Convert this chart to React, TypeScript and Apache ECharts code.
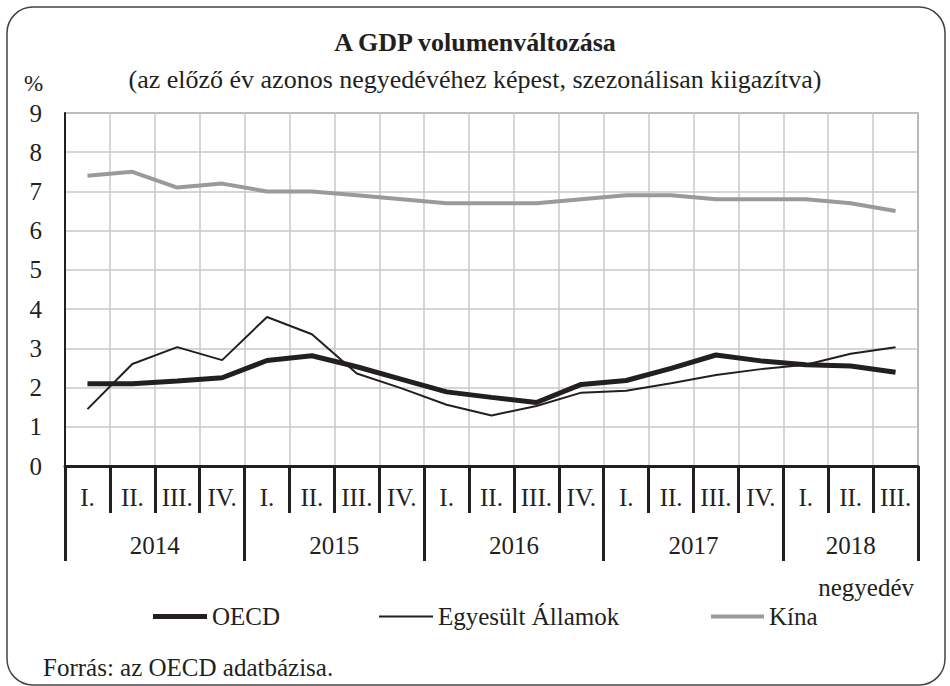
import React, { useEffect, useRef } from "react";
import * as echarts from "echarts";

const quarters = ["I.", "II.", "III.", "IV.", "I.", "II.", "III.", "IV.", "I.", "II.", "III.", "IV.", "I.", "II.", "III.", "IV.", "I.", "II.", "III."];
const years = ["2014", "2015", "2016", "2017", "2018"];
const yearBoundaries = [0, 4, 8, 12, 16, 19];
const yearCenters = [2, 6, 10, 14, 17.5];

const oecd = [2.1, 2.1, 2.17, 2.25, 2.69, 2.81, 2.53, 2.21, 1.89, 1.75, 1.62, 2.08, 2.18, 2.49, 2.83, 2.68, 2.58, 2.55, 2.39];
const usa = [1.45, 2.6, 3.03, 2.7, 3.8, 3.36, 2.36, 1.98, 1.56, 1.29, 1.53, 1.87, 1.92, 2.11, 2.32, 2.47, 2.58, 2.86, 3.03];
const china = [7.4, 7.5, 7.1, 7.2, 7.0, 7.0, 6.9, 6.8, 6.7, 6.7, 6.7, 6.8, 6.9, 6.9, 6.8, 6.8, 6.8, 6.7, 6.5];

const FONT = "'Liberation Serif', 'DejaVu Serif', serif";
const INK = "#231f20";
const GRAY = "#9a9a9c";
const FS = 25;

export default function App() {
  const ref = useRef<HTMLDivElement>(null);
  useEffect(() => {
    if (!ref.current) return;
    const chart = echarts.init(ref.current, null, { renderer: "svg" });
    const legendText = { fontFamily: FONT, fontSize: FS, color: INK };
    chart.setOption({
      animation: false,
      backgroundColor: "#ffffff",
      textStyle: { fontFamily: FONT, color: INK },
      title: [
        { text: "A GDP volumenváltozása", left: "center", top: 24, textStyle: { fontFamily: FONT, fontSize: 26, fontWeight: "bold", color: INK } },
        { text: "(az előző év azonos negyedévéhez képest, szezonálisan kiigazítva)", left: "center", top: 61, textStyle: { fontFamily: FONT, fontSize: 26, fontWeight: "normal", color: INK } },
        { text: "%", left: 24, top: 72, padding: 0, textStyle: { fontFamily: FONT, fontSize: 23, lineHeight: 23, fontWeight: "normal", color: INK } },
        { text: "negyedév", right: 31, top: 570, textStyle: { fontFamily: FONT, fontSize: FS, fontWeight: "normal", color: INK } },
        { text: "Forrás: az OECD adatbázisa.", left: 38, top: 650, textStyle: { fontFamily: FONT, fontSize: FS, fontWeight: "normal", color: INK } },
      ],
      graphic: [
        { type: "rect", shape: { x: 7, y: 7, width: 938, height: 678, r: 26 }, style: { fill: "none", stroke: "#444", lineWidth: 1.5 }, silent: true },
      ],
      legend: [
        { data: [{ name: "OECD", icon: "rect" }], left: 148, top: 599, itemWidth: 54, itemHeight: 5, itemStyle: { color: INK }, textStyle: legendText },
        { data: [{ name: "Egyesült Államok", icon: "rect" }], left: 374, top: 599, itemWidth: 54, itemHeight: 2, itemStyle: { color: INK }, textStyle: legendText },
        { data: [{ name: "Kína", icon: "rect" }], left: 706, top: 599, itemWidth: 53, itemHeight: 4, itemStyle: { color: GRAY }, textStyle: legendText },
      ],
      grid: { left: 65, right: 32, top: 113, bottom: 220, show: true, borderColor: "#333", borderWidth: 1.2 },
      xAxis: [
        {
          type: "category",
          data: quarters,
          boundaryGap: true,
          axisLine: { lineStyle: { color: INK, width: 3 } },
          axisTick: { show: true, interval: 0, length: 47, lineStyle: { color: INK, width: 3 } },
          axisLabel: { interval: 0, margin: 19, fontSize: FS, fontFamily: FONT, color: INK },
          splitLine: { show: true, interval: 0, lineStyle: { color: "#c8c8c8", width: 1.5 } },
        },
        {
          type: "value",
          min: 0,
          max: 19,
          position: "bottom",
          axisLine: { show: false },
          axisTick: { show: true, customValues: yearBoundaries, length: 95, lineStyle: { color: INK, width: 3 } },
          axisLabel: {
            customValues: yearCenters,
            margin: 67,
            fontSize: FS,
            fontFamily: FONT,
            color: INK,
            formatter: (v: number) => {
              const i = yearCenters.indexOf(v);
              return i >= 0 ? years[i] : "";
            },
          },
          splitLine: { show: false },
        },
      ],
      yAxis: {
        type: "value",
        min: 0,
        max: 9,
        interval: 1,
        axisLine: { show: true, lineStyle: { color: INK, width: 2 } },
        axisTick: { show: false },
        axisLabel: { margin: 23, fontSize: FS, lineHeight: 22, fontFamily: FONT, color: INK },
        splitLine: { show: true, lineStyle: { color: "#c8c8c8", width: 1.5 } },
      },
      series: [
        { name: "Kína", type: "line", data: china, symbol: "none", lineStyle: { color: GRAY, width: 4 }, itemStyle: { color: GRAY }, z: 3 },
        { name: "Egyesült Államok", type: "line", data: usa, symbol: "none", lineStyle: { color: INK, width: 2 }, itemStyle: { color: INK }, z: 4 },
        { name: "OECD", type: "line", data: oecd, symbol: "none", lineStyle: { color: INK, width: 5 }, itemStyle: { color: INK }, z: 5 },
      ],
    });
    return () => chart.dispose();
  }, []);
  return <div ref={ref} style={{ position: "fixed", left: 0, top: 0, width: 950, height: 686 }} />;
}
